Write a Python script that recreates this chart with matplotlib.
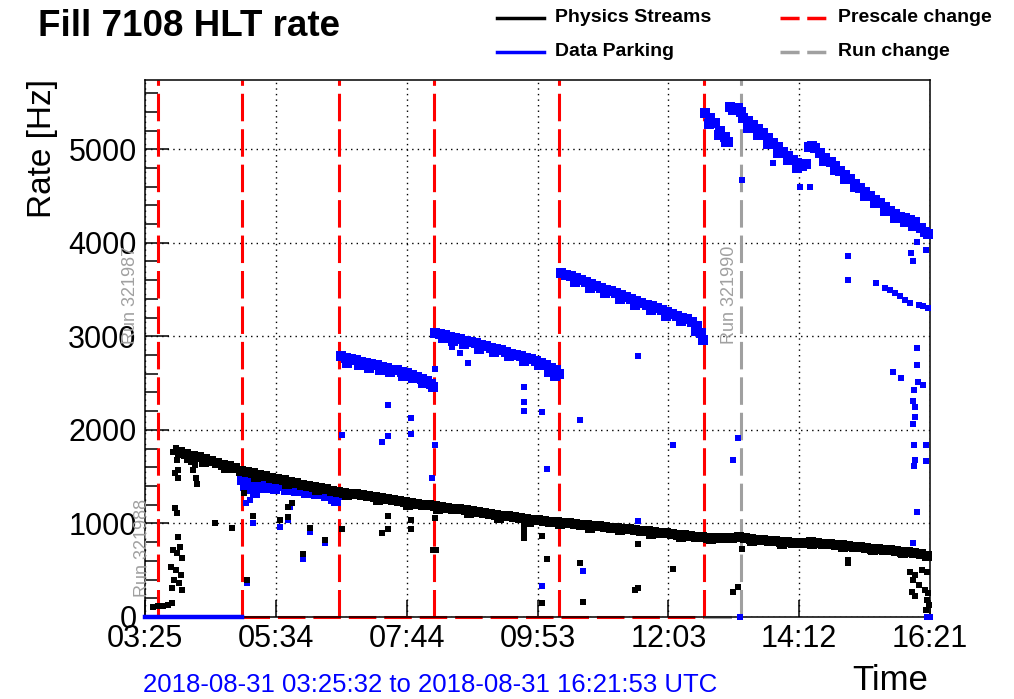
import matplotlib.pyplot as plt
import numpy as np
from matplotlib.lines import Line2D

plt.rcParams['font.family'] = ['Liberation Sans', 'DejaVu Sans']

# x = minutes since 2018-08-31 03:25:32 UTC (fill start), y = rate in Hz
t_end = 776.35
tick_labels = ['03:25', '05:34', '07:44', '09:53', '12:03', '14:12', '16:21']

prescale_t = [13, 95.5, 192, 286, 409, 553]
run_t = [589]

# Physics Streams - main band
phys_band = [
    (35, 1760), (41, 1745), (47, 1725), (53, 1705), (59, 1690), (65, 1670), (71, 1650),
    (77, 1630), (83, 1610), (89, 1590), (95, 1565), (101, 1550), (107, 1535), (113, 1520),
    (119, 1505), (125, 1490), (131, 1475), (137, 1460), (143, 1445), (149, 1430), (155, 1415),
    (161, 1400), (167, 1390), (173, 1375), (179, 1365), (185, 1350), (191, 1340), (197, 1330),
    (203, 1320), (209, 1310), (215, 1300), (221, 1290), (227, 1280), (233, 1270), (239, 1260),
    (245, 1250), (251, 1240), (257, 1230), (263, 1220), (269, 1210), (275, 1200), (281, 1192),
    (287, 1185), (293, 1175), (299, 1165), (305, 1158), (311, 1150), (317, 1140), (323, 1130),
    (329, 1120), (335, 1112), (341, 1100), (347, 1090), (353, 1082), (359, 1075), (365, 1065),
    (371, 1058), (377, 1050), (383, 1042), (389, 1035), (395, 1028), (401, 1020), (407, 1015),
    (413, 1008), (419, 1000), (425, 993), (431, 986), (437, 980), (443, 975), (449, 968),
    (455, 962), (461, 955), (467, 950), (473, 943), (479, 936), (485, 930), (491, 922),
    (497, 915), (503, 910), (509, 903), (515, 895), (521, 888), (527, 880), (533, 873),
    (539, 865), (545, 858), (551, 852), (557, 848), (563, 845), (569, 842), (575, 840),
    (581, 845), (587, 850), (593, 843), (599, 835), (605, 828), (611, 822), (617, 815),
    (623, 810), (629, 805), (635, 800), (641, 795), (647, 790), (653, 792), (659, 798),
    (665, 790), (671, 785), (677, 780), (683, 772), (689, 765), (695, 760), (701, 752),
    (707, 745), (713, 738), (719, 732), (725, 725), (731, 718), (737, 712), (743, 705),
    (749, 700), (755, 695), (761, 688), (767, 675), (773, 655),
    # lower edge of the band
    (44, 1700), (58, 1660), (80, 1590), (110, 1500), (140, 1425), (170, 1355), (200, 1300),
    (230, 1250), (260, 1200), (290, 1155), (320, 1115), (350, 1060), (380, 1020), (410, 990),
    (440, 955), (470, 925), (500, 890), (530, 855), (560, 830), (600, 815), (630, 785),
    (660, 775), (690, 745), (720, 715), (750, 680),
]

# Physics Streams - scattered points
phys_out = [
    (8, 107), (13, 118), (18, 118), (23, 128), (27, 150),
    (30, 1540), (33, 1485), (30, 1165), (32, 1110), (33, 855), (35, 750), (28, 715),
    (32, 685), (37, 630), (26, 530), (31, 500), (36, 450), (29, 395), (34, 365),
    (27, 310), (37, 290), (28, 1760), (31, 1805), (38, 1730), (32, 1675), (33, 1570),
    (45, 1655), (47, 1570), (50, 1485), (51, 1420), (49, 1620),
    (69, 1000), (86, 950), (98, 1325), (107, 1080), (101, 395), (134, 1035), (141, 1175),
    (141, 1070), (145, 1220), (156, 675), (163, 950), (178, 820), (195, 940), (234, 900),
    (240, 1080), (240, 940), (263, 1035), (263, 940), (285, 715), (288, 715), (287, 1055),
    (375, 960), (375, 910), (375, 845), (393, 865), (398, 620), (393, 150), (430, 575),
    (433, 160), (488, 780), (485, 290), (488, 310), (522, 510), (590, 725), (582, 270),
    (586, 320), (695, 610), (695, 575),
    (760, 685), (766, 695), (771, 640), (757, 480), (762, 450), (768, 500), (773, 480),
    (760, 395), (765, 340), (759, 265), (771, 290), (762, 225), (774, 255), (773, 180),
    (775, 130), (772, 75),
]

# Data Parking - zero rate before first prescale change
park_zero_t = [0, 95.5]
park_zero_r = [0, 0]

# Data Parking - bands between prescale changes
park_band = [
    # 05:00 - 06:40
    (96, 1465), (101, 1445), (106, 1435), (111, 1430), (116, 1425), (121, 1420), (126, 1412),
    (131, 1405), (136, 1400), (141, 1392), (146, 1385), (151, 1378), (156, 1370), (161, 1362),
    (166, 1355), (171, 1345), (176, 1335), (181, 1325), (186, 1310), (191, 1300),
    (99, 1400), (104, 1370), (109, 1330), (119, 1380), (129, 1370), (139, 1360), (149, 1345),
    (159, 1330), (169, 1310), (179, 1290), (186, 1260), (189, 1240),
    # 06:40 - 08:10
    (194, 2790), (199, 2770), (204, 2760), (209, 2745), (214, 2730), (219, 2715), (224, 2700),
    (229, 2690), (234, 2675), (239, 2660), (244, 2645), (249, 2635), (254, 2620), (259, 2605),
    (264, 2585), (269, 2570), (274, 2545), (279, 2520), (283, 2490), (285, 2460),
    (200, 2720), (212, 2690), (222, 2660), (232, 2640), (242, 2620), (255, 2580), (265, 2550),
    (275, 2500),
    # 08:10 - 10:15
    (287, 3040), (292, 3025), (297, 3010), (302, 2995), (307, 2985), (312, 2970), (317, 2955),
    (322, 2940), (327, 2925), (332, 2910), (337, 2895), (342, 2880), (347, 2865), (352, 2850),
    (357, 2835), (362, 2815), (367, 2800), (372, 2785), (377, 2770), (382, 2755), (387, 2735),
    (392, 2715), (397, 2690), (402, 2665), (406, 2640), (409, 2600),
    (295, 2980), (305, 2950), (315, 2920), (330, 2870), (345, 2830), (360, 2790), (375, 2740),
    (390, 2690), (400, 2620), (405, 2580),
    # 10:15 - 12:40
    (411, 3680), (416, 3660), (421, 3640), (426, 3620), (431, 3600), (436, 3580), (441, 3560),
    (446, 3540), (451, 3520), (456, 3500), (461, 3480), (466, 3460), (471, 3440), (476, 3420),
    (481, 3400), (486, 3380), (491, 3360), (496, 3340), (501, 3320), (506, 3300), (511, 3280),
    (516, 3260), (521, 3240), (526, 3220), (531, 3200), (536, 3180), (541, 3150), (546, 3110),
    (550, 3040), (552, 2960),
    (425, 3580), (440, 3520), (455, 3460), (470, 3400), (485, 3340), (500, 3280), (515, 3220),
    (530, 3160), (545, 3060),
    # 12:40 - end
    (554, 5385), (559, 5330), (564, 5280), (569, 5200), (574, 5130), (577, 5080), (579, 5450),
    (582, 5420), (586, 5440), (589, 5400), (591, 5330), (596, 5300), (601, 5260), (606, 5220),
    (611, 5170), (616, 5120), (621, 5070), (626, 5020), (631, 4970), (636, 4930), (641, 4880),
    (645, 4850), (650, 4820), (654, 4840), (657, 5020), (660, 5030), (663, 5010), (668, 4960),
    (673, 4910), (678, 4860), (682, 4820), (687, 4770), (692, 4720), (697, 4680), (702, 4630),
    (707, 4590), (712, 4540), (717, 4500), (722, 4460), (727, 4420), (732, 4380), (737, 4340),
    (742, 4310), (747, 4280), (752, 4260), (757, 4240), (762, 4220), (767, 4160), (771, 4120),
    (774, 4090),
    (558, 5270), (568, 5150), (575, 5080), (596, 5230), (606, 5150), (616, 5060), (626, 4960),
    (636, 4880), (645, 4800), (672, 4870), (682, 4780), (692, 4680), (702, 4600), (712, 4500),
    (722, 4420), (732, 4340), (742, 4270), (752, 4220), (760, 4180),
]

park_out = [
    (101, 365), (107, 1005), (100, 1220), (104, 1250), (134, 960), (141, 1035), (143, 1175),
    (156, 620), (163, 910), (178, 790), (195, 1945), (234, 1870), (240, 1935), (240, 2265),
    (263, 2125), (263, 1955), (287, 2650), (287, 1840), (284, 1485), (304, 2885), (312, 2820),
    (319, 2715), (375, 2455), (375, 2300), (375, 2200), (393, 2190), (398, 1580), (393, 330),
    (430, 2105), (433, 490), (488, 2790), (488, 1025), (485, 940), (522, 1840), (590, 4670),
    (586, 1915), (582, 1680), (588, 0), (621, 4850), (648, 4595), (658, 4595), (695, 3855),
    (695, 3600), (723, 3570),
    (732, 3515), (737, 3495), (742, 3460), (747, 3430), (752, 3385), (757, 3355), (765, 3335),
    (769, 3320), (774, 3300),
    (763, 4005), (758, 3890), (760, 3805), (772, 3920), (763, 2875), (763, 2690), (740, 2620),
    (748, 2555), (764, 2510), (769, 2480), (761, 2425), (760, 2310), (762, 2245), (762, 2135),
    (760, 2060), (761, 1840), (772, 1840), (762, 1680), (761, 1615), (772, 1665), (763, 1120),
    (760, 790), (773, 0), (776, 0),
]


fig = plt.figure(figsize=(10.14, 6.99), dpi=100)
ax = fig.add_axes([145 / 1014, 82 / 699, 785 / 1014, 537 / 699])

# prescale / run change markers
for t in prescale_t:
    ax.axvline(t, color='red', lw=2.2, linestyle=(0, (9, 2.6)), zorder=2)
for t in run_t:
    ax.axvline(t, color='#a0a0a0', lw=2.2, linestyle=(0, (9, 2.6)), zorder=2)
ax.plot([prescale_t[1], prescale_t[-1]], [0, 0], color='red', lw=2.2,
        linestyle=(0, (9, 2.6)), clip_on=False, zorder=2)
ax.plot([prescale_t[-1], run_t[0]], [0, 0], color='#a0a0a0', lw=2.2,
        linestyle=(0, (9, 2.6)), clip_on=False, zorder=2)

# data parking
ax.plot(park_zero_t, park_zero_r, color='blue', lw=3.2, clip_on=False, zorder=3)
pb = np.array(park_band)
ax.plot(pb[:, 0], pb[:, 1], 's', color='blue', ms=6.5, mew=0, clip_on=False, zorder=3)
po = np.array(park_out)
ax.plot(po[:, 0], po[:, 1], 's', color='blue', ms=4.5, mew=0, clip_on=False, zorder=3)

# physics streams
ph = np.array(phys_band)
ax.plot(ph[:, 0], ph[:, 1], 's', color='black', ms=6.5, mew=0, clip_on=False, zorder=4)
pho = np.array(phys_out)
ax.plot(pho[:, 0], pho[:, 1], 's', color='black', ms=4.5, mew=0, clip_on=False, zorder=4)

ax.set_xlim(0, t_end)
ax.set_ylim(0, 5740)
ax.set_xticks(np.linspace(0, t_end, len(tick_labels)))
ax.set_xticklabels(tick_labels)
ax.set_yticks([0, 1000, 2000, 3000, 4000, 5000])
ax.set_yticks(np.arange(0, 5740, 200), minor=True)
ax.tick_params(axis='both', which='both', direction='in', labelsize=22, width=1.1)
ax.tick_params(axis='y', which='major', length=17, pad=6)
ax.tick_params(axis='y', which='minor', length=9)
ax.tick_params(axis='x', which='major', length=12, pad=5)
ax.tick_params(axis='x', which='minor', length=0)
ax.grid(True, which='major', color='black', linestyle=(0, (1, 3)), lw=1)
ax.set_axisbelow(True)
for s in ax.spines.values():
    s.set_linewidth(1.1)

# run labels
ax.text(-14, 3440, 'Run 321987', rotation=90, color='#a0a0a0', fontsize=13,
        ha='center', va='center', clip_on=False)
ax.text(-2, 740, 'Run 321988', rotation=90, color='#a0a0a0', fontsize=13,
        ha='center', va='center', clip_on=False)
ax.text(578, 3440, 'Run 321990', rotation=90, color='#a0a0a0', fontsize=13,
        ha='center', va='center', clip_on=False)

# titles and axis labels
fig.text(38 / 1014, 1 - 26 / 699, 'Fill 7108 HLT rate', fontsize=26.5, fontweight='bold',
         ha='left', va='center')
fig.text(42 / 1014, 1 - 149 / 699, 'Rate [Hz]', fontsize=24, rotation=90,
         ha='center', va='center')
fig.text(928 / 1014, 1 - 681 / 699, 'Time', fontsize=25, ha='right', va='center')
fig.text(143 / 1014, 1 - 685 / 699, '2018-08-31 03:25:32 to 2018-08-31 16:21:53 UTC',
         fontsize=18.5, color='blue', ha='left', va='center')

# legend
leg = [
    (497, 18, 'black', '-', 'Physics Streams'),
    (497, 52, 'blue', '-', 'Data Parking'),
    (780, 18, 'red', (0, (5.5, 2.2)), 'Prescale change'),
    (780, 52, '#a0a0a0', (0, (5.5, 2.2)), 'Run change'),
]
for x0, y0, c, ls, lab in leg:
    yy = 1 - y0 / 699
    fig.add_artist(Line2D([x0 / 1014, (x0 + 47) / 1014], [yy, yy], color=c, lw=2.5,
                          linestyle=ls))
    fig.text((x0 + 58) / 1014, yy, lab, fontsize=14, fontweight='bold',
             ha='left', va='center')

fig.savefig('out.png', dpi=100)
